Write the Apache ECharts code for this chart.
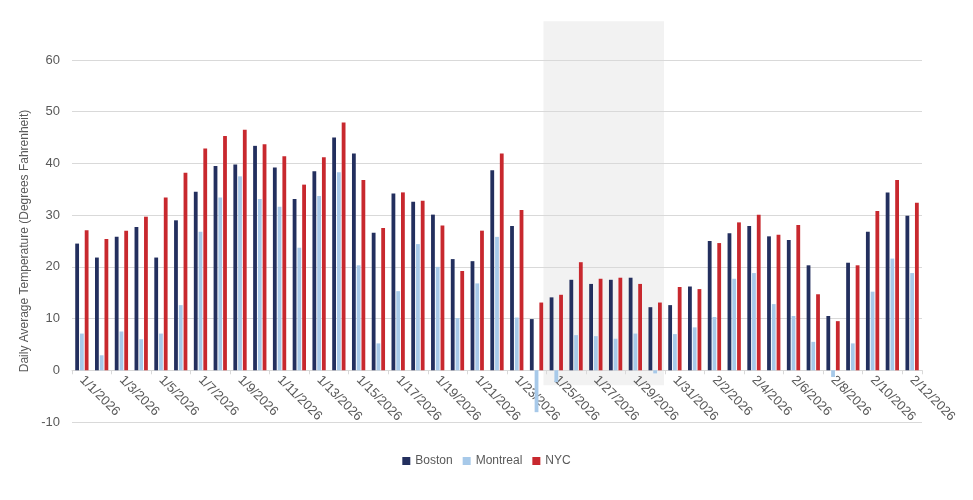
<!DOCTYPE html>
<html>
<head>
<meta charset="utf-8">
<script src="https://cdn.jsdelivr.net/npm/echarts@6/dist/echarts.min.js"></script>
<style>
html,body{margin:0;padding:0;background:#fff;}
#chartsDiv{width:973px;height:500px;}
</style>
</head>
<body>
<div id="chartsDiv"></div>
<script>
var dates = ['1/1/2026','1/2/2026','1/3/2026','1/4/2026','1/5/2026','1/6/2026','1/7/2026','1/8/2026','1/9/2026','1/10/2026',
	'1/11/2026','1/12/2026','1/13/2026','1/14/2026','1/15/2026','1/16/2026','1/17/2026','1/18/2026','1/19/2026','1/20/2026',
	'1/21/2026','1/22/2026','1/23/2026','1/24/2026','1/25/2026','1/26/2026','1/27/2026','1/28/2026','1/29/2026','1/30/2026',
	'1/31/2026','2/1/2026','2/2/2026','2/3/2026','2/4/2026','2/5/2026','2/6/2026','2/7/2026','2/8/2026','2/9/2026',
	'2/10/2026','2/11/2026','2/12/2026'];
var boston = [24.5,21.8,25.8,27.7,21.8,29.0,34.5,39.5,39.8,43.4,
	39.2,33.1,38.5,45.0,41.9,26.6,34.2,32.6,30.1,21.5,
	21.1,38.7,27.9,9.9,14.1,17.5,16.7,17.5,17.9,12.2,
	12.6,16.2,25.0,26.5,27.9,25.9,25.2,20.3,10.5,20.8,
	26.8,34.4,29.9];
var montreal = [7.1,2.9,7.5,6.0,7.1,12.6,26.8,33.4,37.5,33.1,
	31.6,23.7,33.7,38.3,20.3,5.2,15.3,24.4,20.0,10.1,
	16.8,25.8,10.2,-8.1,-2.3,6.8,6.6,6.1,7.1,-0.6,
	7.0,8.3,10.3,17.7,18.8,12.8,10.5,5.5,-1.3,5.2,
	15.2,21.6,18.8];
var nyc = [27.1,25.4,27.0,29.7,33.4,38.2,42.9,45.3,46.5,43.7,
	41.4,35.9,41.2,47.9,36.8,27.5,34.4,32.8,28.0,19.2,
	27.0,41.9,31.0,13.1,14.6,20.9,17.7,17.9,16.7,13.1,
	16.1,15.7,24.6,28.6,30.1,26.2,28.1,14.7,9.5,20.3,
	30.8,36.8,32.4];
// shaded period: x in category units (0 = left edge of first day), y in degrees
var shadeX = [23.85, 29.95];
var shadeY = [67.5, -2.9];

var chart = echarts.init(document.getElementById('chartsDiv'));
var txtColor = '#595959';
var fontFam = '"Liberation Sans", Arial, sans-serif';

var opt = {
	animation:false,
	backgroundColor:'#fff',
	textStyle:{fontFamily:fontFam},
	color:['#232f5e','#a7c9e9','#c8282e'],
	grid:{left:72, right:51, top:60, bottom:78},
	legend:{
		bottom:28,
		left:'center',
		itemWidth:8,
		itemHeight:8,
		itemGap:10,
		icon:'rect',
		textStyle:{color:txtColor, fontSize:12, fontFamily:fontFam},
		data:['Boston','Montreal','NYC']
	},
	xAxis:{
		type:'category',
		data:dates,
		axisLine:{onZero:true, lineStyle:{color:'#d9d9d9'}},
		axisTick:{show:true, interval:1, length:4, lineStyle:{color:'#d9d9d9'}},
		axisLabel:{interval:1, rotate:-45, color:txtColor, fontSize:13, margin:-44, fontFamily:fontFam},
		splitLine:{show:false}
	},
	yAxis:{
		type:'value',
		min:-10,
		max:60,
		interval:10,
		name:'Daily Average Temperature (Degrees Fahrenheit)',
		nameLocation:'middle',
		nameGap:33,
		nameTextStyle:{color:txtColor, fontSize:12, fontFamily:fontFam},
		axisLine:{show:false},
		axisTick:{show:false},
		axisLabel:{color:txtColor, fontSize:13, margin:12, fontFamily:fontFam},
		splitLine:{lineStyle:{color:'#d9d9d9'}}
	},
	series:[
		{name:'Boston', type:'bar', data:boston, barWidth:3.8, barGap:'25%'},
		{name:'Montreal', type:'bar', data:montreal, barWidth:3.8, barGap:'25%'},
		{name:'NYC', type:'bar', data:nyc, barWidth:3.8, barGap:'25%'}
	]
};
chart.setOption(opt);

// shaded box placed through the axes' own scales
var c0 = chart.convertToPixel({xAxisIndex:0}, 0);
var c1 = chart.convertToPixel({xAxisIndex:0}, 1);
var step = c1 - c0;
var xa = c0 + (shadeX[0] - 0.5) * step;
var xb = c0 + (shadeX[1] - 0.5) * step;
var ya = chart.convertToPixel({yAxisIndex:0}, shadeY[0]);
var yb = chart.convertToPixel({yAxisIndex:0}, shadeY[1]);
chart.setOption({
	graphic:[{
		type:'rect',
		z:-10,
		silent:true,
		shape:{x:xa, y:ya, width:xb-xa, height:yb-ya},
		style:{fill:'#f2f2f2'}
	}]
});
</script>
</body>
</html>
